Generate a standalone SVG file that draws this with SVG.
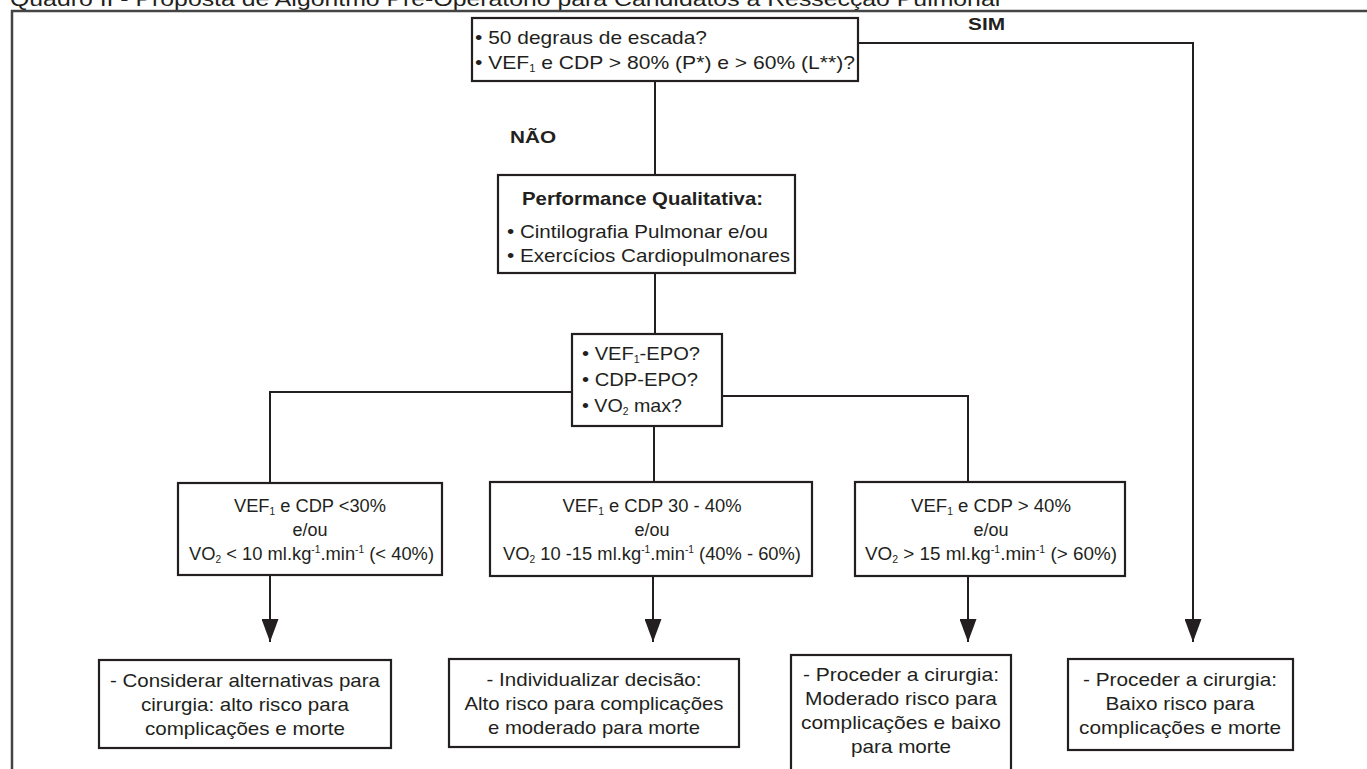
<svg xmlns="http://www.w3.org/2000/svg" width="1367" height="769" viewBox="0 0 1367 769">
<defs>
<marker id="arr" markerUnits="userSpaceOnUse" markerWidth="23" markerHeight="17" viewBox="0 0 23 17" refX="23" refY="8.5" orient="auto">
<path d="M0,0 L23,8.5 L0,17 Z" fill="#231f20"/>
</marker>
<style>
.box{fill:#fff;stroke:#231f20;stroke-width:2.2}
.t{font-family:"Liberation Sans",Arial,sans-serif;fill:#231f20}
.lg{font-size:19px}
.sm{font-size:18px}
.b{font-weight:bold}
.c{text-anchor:middle}
.ln{fill:none;stroke:#231f20;stroke-width:2}
.sub{font-size:10px}
</style>
</defs>
<rect width="1367" height="769" fill="#fff"/>
<text class="t" x="10" y="6" font-size="20" textLength="993" lengthAdjust="spacingAndGlyphs">Quadro II - Proposta de Algoritmo Pré-Operatório para Candidatos à Ressecção Pulmonar</text>
<path d="M12,769 V11 H1367" fill="none" stroke="#444" stroke-width="2.5"/>

<g id="connectors">
<path class="ln" d="M858,43 H1193 V642" marker-end="url(#arr)"/>
<path class="ln" d="M655,81 V175"/>
<path class="ln" d="M655,273 V334"/>
<path class="ln" d="M572,392 H270 V483"/>
<path class="ln" d="M722,396 H968 V482"/>
<path class="ln" d="M654,426 V482"/>
<path class="ln" d="M270,575 V642" marker-end="url(#arr)"/>
<path class="ln" d="M653,576 V642" marker-end="url(#arr)"/>
<path class="ln" d="M968,576 V642" marker-end="url(#arr)"/>
<text class="t b" x="968" y="30" font-size="16" textLength="37" lengthAdjust="spacingAndGlyphs">SIM</text>
<text class="t b" x="510" y="143" font-size="17" textLength="46" lengthAdjust="spacingAndGlyphs">NÃO</text>
</g>

<g id="n-start">
<rect class="box" x="472" y="18" width="386" height="63"/>
<text class="t lg" x="475" y="44" textLength="232" lengthAdjust="spacingAndGlyphs">• 50 degraus de escada?</text>
<text class="t lg" x="475" y="69" textLength="380" lengthAdjust="spacingAndGlyphs">• VEF<tspan class="sub" dy="3">1</tspan><tspan dy="-3"> e CDP &gt; 80% (P*) e &gt; 60% (L**)?</tspan></text>
</g>

<g id="n-performance">
<rect class="box" x="498" y="175" width="297" height="98"/>
<text class="t lg b" x="522" y="205" textLength="241" lengthAdjust="spacingAndGlyphs">Performance Qualitativa:</text>
<text class="t lg" x="507" y="238" textLength="261" lengthAdjust="spacingAndGlyphs">• Cintilografia Pulmonar e/ou</text>
<text class="t lg" x="507" y="262" textLength="283" lengthAdjust="spacingAndGlyphs">• Exercícios Cardiopulmonares</text>
</g>

<g id="n-questions">
<rect class="box" x="572" y="334" width="150" height="92"/>
<text class="t lg" x="582" y="360" textLength="118" lengthAdjust="spacingAndGlyphs">• VEF<tspan class="sub" dy="3">1</tspan><tspan dy="-3">-EPO?</tspan></text>
<text class="t lg" x="582" y="386" textLength="116" lengthAdjust="spacingAndGlyphs">• CDP-EPO?</text>
<text class="t lg" x="582" y="412" textLength="100" lengthAdjust="spacingAndGlyphs">• VO<tspan class="sub" dy="3">2</tspan><tspan dy="-3"> max?</tspan></text>
</g>

<g id="n-cond-low">
<rect class="box" x="178" y="483" width="264" height="92"/>
<text class="t sm c" x="310" y="512" textLength="152" lengthAdjust="spacingAndGlyphs">VEF<tspan class="sub" dy="3">1</tspan><tspan dy="-3"> e CDP &lt;30%</tspan></text>
<text class="t sm c" x="310" y="536">e/ou</text>
<text class="t sm" x="189" y="560" textLength="245" lengthAdjust="spacingAndGlyphs">VO<tspan class="sub" dy="3">2</tspan><tspan dy="-3"> &lt; 10 ml.kg</tspan><tspan class="sub" dy="-7">-1</tspan><tspan dy="7">.min</tspan><tspan class="sub" dy="-7">-1</tspan><tspan dy="7"> (&lt; 40%)</tspan></text>
</g>

<g id="n-cond-mid">
<rect class="box" x="490" y="482" width="322" height="94"/>
<text class="t sm c" x="652" y="512" textLength="179" lengthAdjust="spacingAndGlyphs">VEF<tspan class="sub" dy="3">1</tspan><tspan dy="-3"> e CDP 30 - 40%</tspan></text>
<text class="t sm c" x="652" y="536">e/ou</text>
<text class="t sm" x="503" y="560" textLength="298" lengthAdjust="spacingAndGlyphs">VO<tspan class="sub" dy="3">2</tspan><tspan dy="-3"> 10 -15 ml.kg</tspan><tspan class="sub" dy="-7">-1</tspan><tspan dy="7">.min</tspan><tspan class="sub" dy="-7">-1</tspan><tspan dy="7"> (40% - 60%)</tspan></text>
</g>

<g id="n-cond-high">
<rect class="box" x="855" y="482" width="270" height="94"/>
<text class="t sm c" x="991" y="512" textLength="160" lengthAdjust="spacingAndGlyphs">VEF<tspan class="sub" dy="3">1</tspan><tspan dy="-3"> e CDP &gt; 40%</tspan></text>
<text class="t sm c" x="991" y="536">e/ou</text>
<text class="t sm" x="865" y="560" textLength="252" lengthAdjust="spacingAndGlyphs">VO<tspan class="sub" dy="3">2</tspan><tspan dy="-3"> &gt; 15 ml.kg</tspan><tspan class="sub" dy="-7">-1</tspan><tspan dy="7">.min</tspan><tspan class="sub" dy="-7">-1</tspan><tspan dy="7">  (&gt; 60%)</tspan></text>
</g>

<g id="n-out-1">
<rect class="box" x="99" y="660" width="292" height="88"/>
<text class="t lg c" x="245" y="687" textLength="270" lengthAdjust="spacingAndGlyphs">- Considerar alternativas para</text>
<text class="t lg c" x="245" y="711" textLength="208" lengthAdjust="spacingAndGlyphs">cirurgia: alto risco para</text>
<text class="t lg c" x="245" y="735" textLength="200" lengthAdjust="spacingAndGlyphs">complicações e morte</text>
</g>

<g id="n-out-2">
<rect class="box" x="449" y="659" width="290" height="88"/>
<text class="t lg c" x="594" y="686" textLength="215" lengthAdjust="spacingAndGlyphs">- Individualizar decisão:</text>
<text class="t lg c" x="594" y="710" textLength="259" lengthAdjust="spacingAndGlyphs">Alto risco para complicações</text>
<text class="t lg c" x="594" y="734" textLength="212" lengthAdjust="spacingAndGlyphs">e moderado para morte</text>
</g>

<g id="n-out-3">
<rect class="box" x="791" y="655" width="220" height="120"/>
<text class="t lg c" x="901" y="681" textLength="196" lengthAdjust="spacingAndGlyphs">- Proceder a cirurgia:</text>
<text class="t lg c" x="901" y="705" textLength="192" lengthAdjust="spacingAndGlyphs">Moderado risco para</text>
<text class="t lg c" x="901" y="729" textLength="200" lengthAdjust="spacingAndGlyphs">complicações e baixo</text>
<text class="t lg c" x="901" y="753" textLength="100" lengthAdjust="spacingAndGlyphs">para morte</text>
</g>

<g id="n-out-4">
<rect class="box" x="1068" y="659" width="225" height="91"/>
<text class="t lg c" x="1180" y="686" textLength="194" lengthAdjust="spacingAndGlyphs">- Proceder a cirurgia:</text>
<text class="t lg c" x="1180" y="710" textLength="149" lengthAdjust="spacingAndGlyphs">Baixo risco para</text>
<text class="t lg c" x="1180" y="734" textLength="202" lengthAdjust="spacingAndGlyphs">complicações e morte</text>
</g>
</svg>
